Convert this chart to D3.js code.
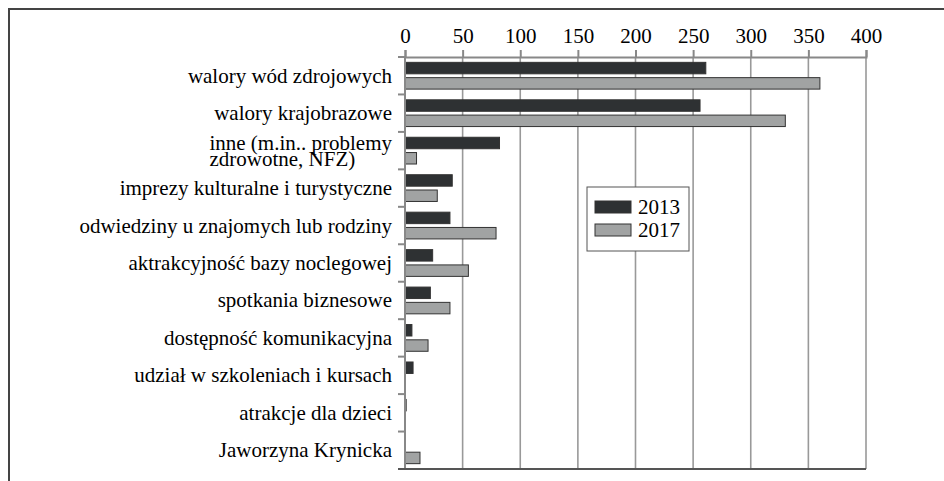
<!DOCTYPE html>
<html>
<head>
<meta charset="utf-8">
<script src="https://cdn.jsdelivr.net/npm/d3@7"></script>
<style>
  body { margin: 0; background: #fff; }
  svg text { font-family: "Liberation Serif", "Times New Roman", serif; fill: #000; }
</style>
</head>
<body>
<div id="chart"></div>
<script>
// data
const categories = [
  'walory wód zdrojowych',
  'walory krajobrazowe',
  'inne (m.in.. problemy|zdrowotne, NFZ)',
  'imprezy kulturalne i turystyczne',
  'odwiedziny u znajomych lub rodziny',
  'aktrakcyjność bazy noclegowej',
  'spotkania biznesowe',
  'dostępność komunikacyjna',
  'udział w szkoleniach i kursach',
  'atrakcje dla dzieci',
  'Jaworzyna Krynicka'
];
const series = ['2013', '2017'];
const values2013 = [261, 256, 82, 41, 39, 24, 22, 6, 7, 1, 0];
const values2017 = [360, 330, 10, 28, 79, 55, 39, 20, 0, 0, 13];
const xTicks = [0, 50, 100, 150, 200, 250, 300, 350, 400];

const W = 944, H = 481;
const margin = { top: 57, right: 78, bottom: 12, left: 405 };
const colors = { '2013': '#2e3133', '2017': '#a1a3a3' };

const svg = d3.select('#chart').append('svg')
  .attr('width', W)
  .attr('height', H);

// frame
svg.append('path')
  .attr('d', `M9,${H} V9 H${W}`)
  .attr('fill', 'none')
  .attr('stroke', '#444')
  .attr('stroke-width', 2);

const x = d3.scaleLinear().domain([0, 400]).range([margin.left, W - margin.right]);
const y = d3.scaleBand().domain(categories).range([margin.top, H - margin.bottom]);
const yInner = d3.scaleBand().domain(series).range([0, y.bandwidth()])
  .paddingInner(0.25).paddingOuter(0.35);

// grid
svg.append('g')
  .selectAll('line')
  .data(xTicks.slice(1))
  .join('line')
  .attr('x1', d => x(d)).attr('x2', d => x(d))
  .attr('y1', margin.top).attr('y2', H - margin.bottom)
  .attr('stroke', '#999')
  .attr('stroke-width', 1.6);

// top axis
const xAxis = svg.append('g')
  .attr('transform', `translate(0,${margin.top})`)
  .call(d3.axisTop(x).tickValues(xTicks).tickSize(7).tickPadding(7));
xAxis.select('.domain').attr('stroke', '#888').attr('stroke-width', 2);
xAxis.selectAll('.tick line').attr('stroke', '#888').attr('stroke-width', 2);
xAxis.selectAll('.tick text')
  .attr('font-size', 21)
  .attr('font-family', '"Liberation Serif", serif')
  .attr('fill', '#000');

// bars
const rows = categories.map((c, i) => ({ cat: c, vals: [
  { key: '2013', v: values2013[i] },
  { key: '2017', v: values2017[i] }
]}));

const groups = svg.append('g')
  .selectAll('g')
  .data(rows)
  .join('g')
  .attr('transform', d => `translate(0,${y(d.cat)})`);

groups.selectAll('rect')
  .data(d => d.vals.filter(v => v.v > 0))
  .join('rect')
  .attr('x', x(0))
  .attr('y', d => yInner(d.key))
  .attr('width', d => x(d.v) - x(0))
  .attr('height', yInner.bandwidth())
  .attr('fill', d => colors[d.key])
  .attr('stroke', '#333')
  .attr('stroke-width', 1);

// left axis with ticks between bands
const yAxisG = svg.append('g');
yAxisG.append('line')
  .attr('x1', x(0)).attr('x2', x(0))
  .attr('y1', margin.top).attr('y2', H - margin.bottom)
  .attr('stroke', '#888').attr('stroke-width', 2);
yAxisG.selectAll('.btick')
  .data(categories)
  .join('line')
  .attr('class', 'btick')
  .attr('x1', x(0) - 7).attr('x2', x(0))
  .attr('y1', d => y(d)).attr('y2', d => y(d))
  .attr('stroke', '#888').attr('stroke-width', 2);
// bottom line
svg.append('line')
  .attr('x1', x(0) - 7).attr('x2', x(400))
  .attr('y1', H - margin.bottom).attr('y2', H - margin.bottom)
  .attr('stroke', '#555').attr('stroke-width', 2);

// category labels
const labelRight = x(0) - 13;
categories.forEach(c => {
  const lines = c.split('|');
  const cy = y(c) + y.bandwidth() / 2;
  const lh = 16;
  const t = svg.append('text')
    .attr('font-size', 21)
    .attr('text-anchor', 'end');
  const first = t.append('tspan')
    .attr('x', labelRight)
    .attr('y', cy - (lines.length - 1) * lh / 2 + 7)
    .text(lines[0]);
  if (lines.length > 1) {
    const startX = labelRight - first.node().getComputedTextLength();
    lines.slice(1).forEach((l, j) => {
      t.append('tspan')
        .attr('text-anchor', 'start')
        .attr('x', startX)
        .attr('y', cy - (lines.length - 1) * lh / 2 + 7 + lh * (j + 1))
        .text(l);
    });
  }
});

// legend
const legend = svg.append('g').attr('transform', 'translate(587,187)');
legend.append('rect')
  .attr('width', 102).attr('height', 64)
  .attr('fill', '#fff').attr('stroke', '#555').attr('stroke-width', 1);
series.forEach((s, i) => {
  legend.append('rect')
    .attr('x', 8).attr('y', 14 + i * 23)
    .attr('width', 36).attr('height', 12)
    .attr('fill', colors[s]).attr('stroke', '#333').attr('stroke-width', 1);
  legend.append('text')
    .attr('x', 51).attr('y', 27 + i * 23)
    .attr('font-size', 21)
    .text(s);
});
</script>
</body>
</html>
